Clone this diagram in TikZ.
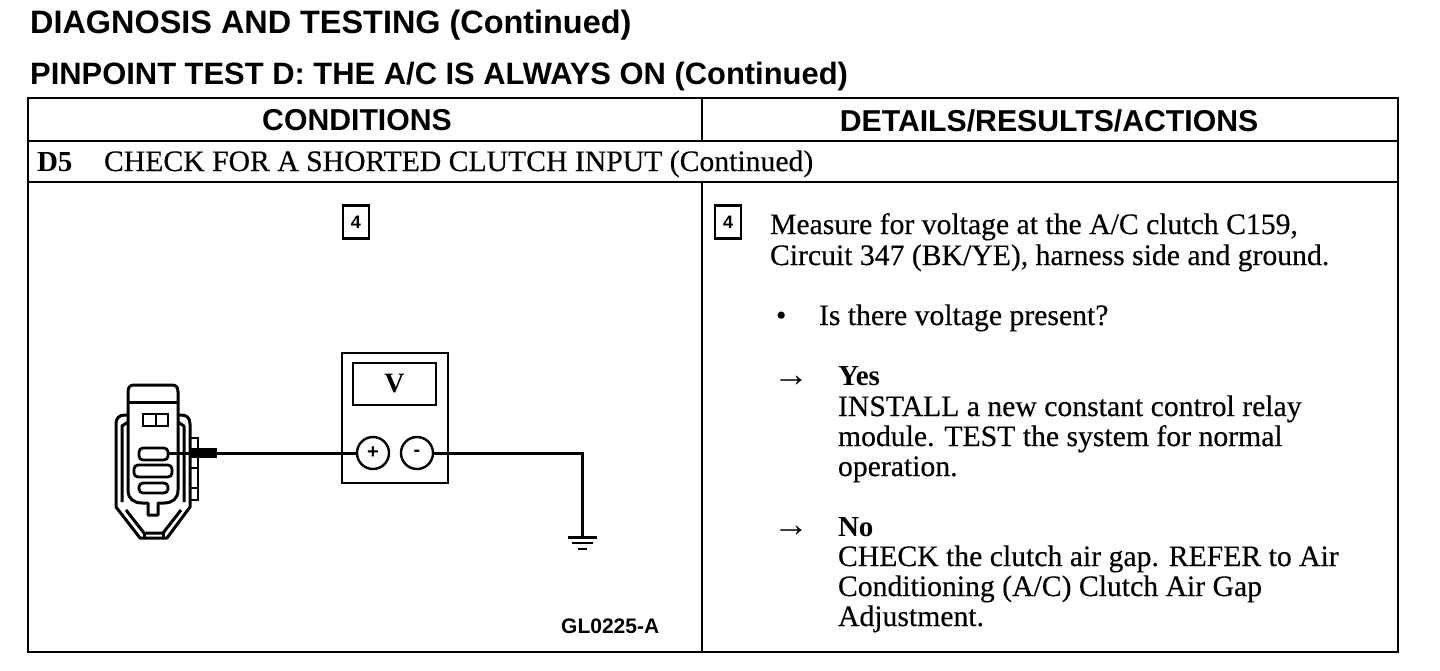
\documentclass[tikz,border=0pt]{standalone}
\usepackage{fontspec}
\setmainfont{Liberation Serif}
\setsansfont{Liberation Sans}
\newfontfamily\bodyfont[FakeBold=0.35]{Liberation Serif}
\usetikzlibrary{calc}
\tikzset{
  rule/.style={line width=2pt,black},
  ink/.style={line width=3pt,black,line join=round},
  body/.style={anchor=base west,inner sep=0pt,outer sep=0pt,font=\bodyfont\fontsize{29.7}{30}\selectfont},
  bodybold/.style={anchor=base west,inner sep=0pt,outer sep=0pt,font=\bfseries\fontsize{29}{30}\selectfont},
  arrowglyph/.style={anchor=base west,inner sep=0pt,outer sep=0pt,font=\fontsize{36}{36}\selectfont},
  head/.style={anchor=base,inner sep=0pt,font=\sffamily\bfseries\fontsize{30.2}{30}\selectfont},
  stepnum/.style={draw,line width=2.2pt,minimum width=26pt,minimum height=33pt,inner sep=0pt,font=\sffamily\bfseries\fontsize{18}{18}\selectfont},
  pill/.style={draw,line width=2.8pt,rounded corners=4pt,inner sep=0pt},
  port/.style={draw,circle,line width=2.4pt,minimum size=32pt,inner sep=0pt,fill=white,font=\sffamily\bfseries\fontsize{20}{20}\selectfont},
}
\begin{document}
\begin{tikzpicture}[x=1pt,y=-1pt]
\useasboundingbox (0,0) rectangle (1440,670);
\node[anchor=base west,inner sep=0pt,font=\sffamily\bfseries\fontsize{32.4}{32}\selectfont] (t1) at (30,33) {DIAGNOSIS AND TESTING (Continued)};
\node[anchor=base west,inner sep=0pt,font=\sffamily\bfseries\fontsize{30.9}{31}\selectfont] (t2) at (30,84) {PINPOINT TEST D: THE A/C IS ALWAYS ON (Continued)};
% table
\draw[rule] (28,98) rectangle (1398,652);
\draw[rule] (28,141) -- (1398,141);
\draw[rule] (28,182) -- (1398,182);
\draw[rule] (702,98) -- (702,141);
\draw[rule] (702,182) -- (702,652);
\node[head] (h1) at (357,130) {CONDITIONS};
\node[head] (h2) at (1049,131) {DETAILS/RESULTS/ACTIONS};
\node[bodybold] (d5) at (37,171) {D5};
\node[body] (d5t) at (104,171) {CHECK FOR A SHORTED CLUTCH INPUT (Continued)};
\node[stepnum] (s1) at (356,222) {4};
\node[stepnum] (s2) at (728,222) {4};
\node[body] (a1) at (770,234) {Measure for voltage at the A/C clutch C159,};
\node[body] (a2) at (770,265) {Circuit 347 (BK/YE), harness side and ground.};
\node[body] (b0) at (776,325) {•};
\node[body] (b1) at (819,325) {Is there voltage present?};
\node[arrowglyph] (ar1) at (773,386) {→};
\node[bodybold] (y) at (838,385) {Yes};
\node[body] (y1) at (838,416) {INSTALL a new constant control relay};
\node[body] (y2) at (838,446) {module. TEST the system for normal};
\node[body] (y3) at (838,476) {operation.};
\node[arrowglyph] (ar2) at (773,536) {→};
\node[bodybold] (n) at (838,536) {No};
\node[body] (n1) at (838,566) {CHECK the clutch air gap. REFER to Air};
\node[body] (n2) at (838,596) {Conditioning (A/C) Clutch Air Gap};
\node[body] (n3) at (838,626) {Adjustment.};
\node[anchor=base west,inner sep=0pt,font=\sffamily\bfseries\fontsize{21}{21}\selectfont] (gl) at (561,633) {GL0225-A};
% connector
\draw[ink,fill=white] (116,507) -- (116,424) .. controls (116,418) and (119,415) .. (125,415) -- (181,415) .. controls (187,415) and (190,418) .. (190,424) -- (190,507) -- (167,538) -- (140,538) -- cycle;
\draw[ink] (122,502) -- (122,426) -- (128,422);
\draw[ink] (184,502) -- (184,426) -- (178,422);
\draw[ink] (126,510) -- (144,533) -- (163,533) -- (181,510);
\draw[ink] (144,533) -- (144,538);
\draw[ink] (163,533) -- (163,538);
\draw[ink,fill=white] (128,392) .. controls (128,387) and (130,385) .. (134,385) -- (172,385) .. controls (176,385) and (178,387) .. (178,392) -- (178,490) .. controls (178,499) and (172,503) .. (164,503) -- (158,503) -- (158,515) -- (148,515) -- (148,503) -- (142,503) .. controls (134,503) and (128,499) .. (128,490) -- cycle;
\draw[ink] (128,402) -- (178,402);
\draw[line width=2.6pt] (143,414) rectangle (168,426);
\draw[line width=2.6pt] (156,414) -- (156,426);
\node[pill,minimum width=29pt,minimum height=12pt] (pin) at (153.5,454) {};
\node[pill,minimum width=38pt,minimum height=12pt] (p2) at (153,471) {};
\node[pill,minimum width=29pt,minimum height=10pt] (p3) at (153.5,488) {};
\draw[line width=2.8pt] (190,438) -- (198,438) -- (198,500) -- (190,500);
\draw[line width=2.8pt] (190,468) -- (198,468);
\draw[line width=2.8pt] (190,488) -- (198,488);
% meter
\node[draw,line width=2.8pt,minimum width=106pt,minimum height=130pt,inner sep=0pt] (meter) at (395,418) {};
\node[draw,line width=2.4pt,minimum width=83pt,minimum height=42pt,inner sep=0pt,font=\bfseries\fontsize{28}{28}\selectfont] (disp) at (394.5,384) {V};
\node[port] (plus) at (373,453) {+};
\node[port] (minus) at (417,453) {-};
% wires
\coordinate (gnd) at (582,537);
\draw[line width=3pt] (pin.east |- 0,453) -- (plus.west);
\draw[line width=10pt] (190,453) -- (217,453);
\draw[line width=3pt] (minus.east) -- (gnd |- minus.east) -- (gnd);
\draw[line width=3pt] ($(gnd)+(-14,0)$) -- ($(gnd)+(15,0)$);
\draw[line width=2.6pt] ($(gnd)+(-10,6)$) -- ($(gnd)+(11,6)$);
\draw[line width=2.4pt] ($(gnd)+(-4,12)$) -- ($(gnd)+(5,12)$);
\end{tikzpicture}
\end{document}
